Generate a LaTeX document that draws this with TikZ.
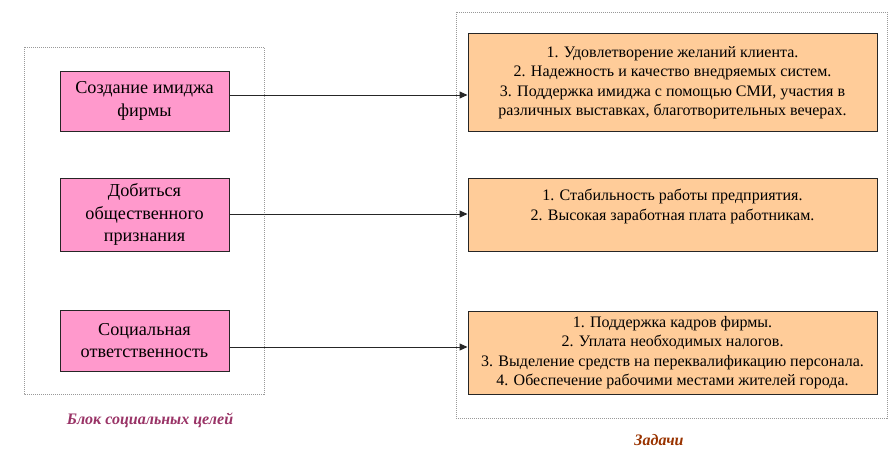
\documentclass[tikz,border=0pt]{standalone}
\usepackage{fontspec}
\setmainfont{Liberation Serif}
\usetikzlibrary{arrows.meta}
\definecolor{pinkfill}{HTML}{FF99CC}
\definecolor{orangefill}{HTML}{FFCC99}
\definecolor{purplelbl}{HTML}{993366}
\definecolor{brownlbl}{HTML}{993300}
\tikzset{
  frame/.style={draw=gray!80, line width=0.6pt, dash pattern=on 1pt off 1pt},
  goalbox/.style={draw=black!85, line width=1pt, fill=pinkfill, minimum width=169pt, inner sep=0pt, align=center,
     font=\fontsize{18.2}{22.5}\selectfont},
  taskbox/.style={draw=black!85, line width=1pt, fill=orangefill, minimum width=409pt, inner sep=0pt, align=center,
     font=\fontsize{16}{19.5}\selectfont},
  link/.style={draw=black!85, line width=1pt, -{Triangle[length=8pt,width=7pt]}},
  caption/.style={font=\fontsize{16}{18}\selectfont\bfseries\itshape}
}
\begin{document}
\begin{tikzpicture}[x=1pt,y=-1pt]
\useasboundingbox (0,0) rectangle (891,460);
\draw[frame] (24,47) rectangle (264,394);
\draw[frame] (456,12) rectangle (887,418);
\node[goalbox, minimum height=60pt] (p1) at (144.5,101) {Создание имиджа\\фирмы};
\node[goalbox, minimum height=73pt] (p2) at (144.5,214.5) {Добиться\\общественного\\признания};
\node[goalbox, minimum height=61pt] (p3) at (144.5,340.5) {Социальная\\ответственность};
\node[taskbox, minimum height=97pt] (o1) at (672.5,82.5) {1. Удовлетворение желаний клиента.\\2. Надежность и качество внедряемых систем.\\3. Поддержка имиджа с помощью СМИ, участия в\\различных выставках, благотворительных вечерах.};
\node[taskbox, minimum height=73pt] (o2) at (672.5,214.5) {1. Стабильность работы предприятия.\\2. Высокая заработная плата работникам.\\~};
\node[taskbox, minimum height=83pt] (o3) at (672.5,352.5) {1. Поддержка кадров фирмы.\\2. Уплата необходимых налогов.\\3. Выделение средств на переквалификацию персонала.\\4. Обеспечение рабочими местами жителей города.};
\coordinate (a1) at (0,95);
\coordinate (a2) at (0,214);
\coordinate (a3) at (0,347);
\draw[link] (p1.east |- a1) -- (o1.west |- a1);
\draw[link] (p2.east |- a2) -- (o2.west |- a2);
\draw[link] (p3.east |- a3) -- (o3.west |- a3);
\node[caption, text=purplelbl] (c1) at (150,420) {Блок социальных целей};
\node[caption, text=brownlbl] (c2) at (659,440) {Задачи};
\end{tikzpicture}
\end{document}
